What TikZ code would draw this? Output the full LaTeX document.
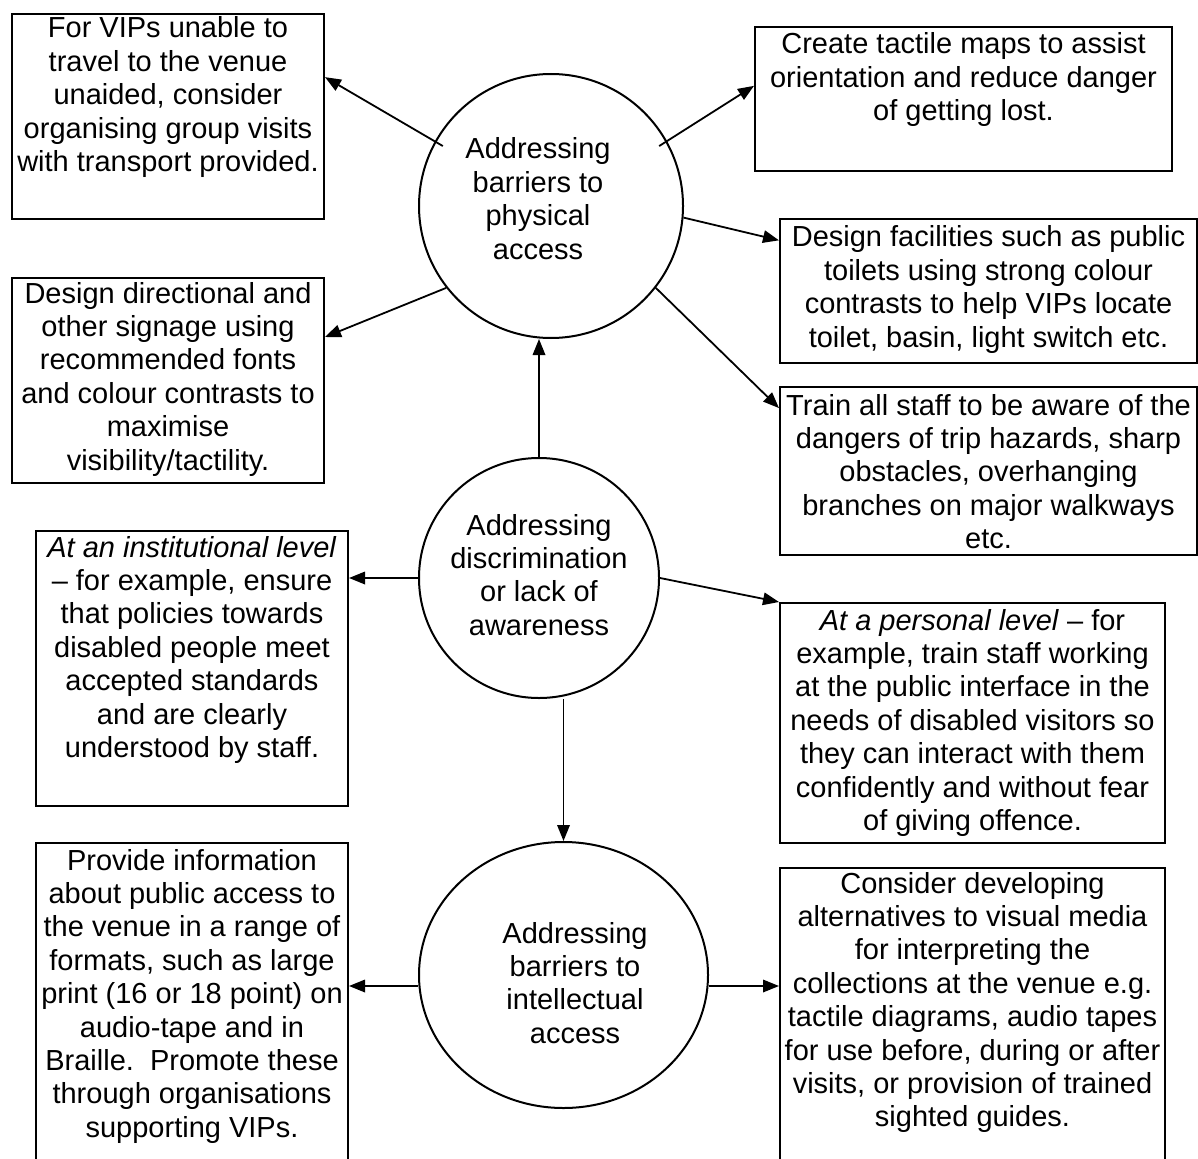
\documentclass[tikz,border=0pt]{standalone}
\usepackage{fontspec}
\setmainfont{Liberation Sans}
\usetikzlibrary{arrows.meta,calc,shapes.geometric}
\newcommand{\mylines}[1]{\begin{tabular}[t]{@{}c@{}}#1\end{tabular}}
\tikzset{
  bx/.style={draw, line width=2pt, inner sep=0pt, anchor=north west, rectangle},
  txt/.style={inner sep=0pt, anchor=base, font=\fontsize{29}{33.4}\selectfont},
  ring/.style={draw, line width=2pt, inner sep=0pt},
  arr/.style={line width=1.8pt, -{Triangle[length=16pt,width=12.5pt]}}
}
\begin{document}
\begin{tikzpicture}[x=1pt,y=-1pt]
\useasboundingbox (0,0) rectangle (1198,1158);
\clip (0,0) rectangle (1198,1158);
% boxes
\node[bx, minimum width=312pt, minimum height=205pt] (A) at (11,13) {};
\node[bx, minimum width=417pt, minimum height=144pt] (B) at (754,26) {};
\node[bx, minimum width=417pt, minimum height=144pt] (C) at (779,218) {};
\node[bx, minimum width=312pt, minimum height=205pt] (D) at (11,277) {};
\node[bx, minimum width=417pt, minimum height=168pt] (E) at (779,386) {};
\node[bx, minimum width=385pt, minimum height=240pt] (F) at (779,602) {};
\node[bx, minimum width=312pt, minimum height=275pt] (G) at (35,530) {};
\node[bx, minimum width=312pt, minimum height=340pt] (H) at (35,842) {};
\node[bx, minimum width=385pt, minimum height=320pt] (I) at (779,867) {};
% box texts
\node[txt] (At) at ([yshift=-25pt]A.north) {\mylines{For VIPs unable to\\travel to the venue\\unaided, consider\\organising group visits\\with transport provided.}};
\node[txt] (Bt) at ([yshift=-28pt]B.north) {\mylines{Create tactile maps to assist\\orientation and reduce danger\\of getting lost.}};
\node[txt] (Ct) at ([yshift=-29pt]C.north) {\mylines{Design facilities such as public\\toilets using strong colour\\contrasts to help VIPs locate\\toilet, basin, light switch etc.}};
\node[txt] (Dt) at ([yshift=-26pt]D.north) {\mylines{Design directional and\\other signage using\\recommended fonts\\and colour contrasts to\\maximise\\visibility/tactility.}};
\node[txt] (Et) at ([yshift=-29pt]E.north) {\mylines{Train all staff to be aware of the\\dangers of trip hazards, sharp\\obstacles, overhanging\\branches on major walkways\\etc.}};
\node[txt] (Ft) at ([yshift=-28pt]F.north) {\mylines{\textit{At a personal level} -- for\\example, train staff working\\at the public interface in the\\needs of disabled visitors so\\they can interact with them\\confidently and without fear\\of giving offence.}};
\node[txt] (Gt) at ([yshift=-27pt]G.north) {\mylines{\textit{At an institutional level}\\-- for example, ensure\\that policies towards\\disabled people meet\\accepted standards\\and are clearly\\understood by staff.}};
\node[txt] (Ht) at ([yshift=-28pt]H.north) {\mylines{Provide information\\about public access to\\the venue in a range of\\formats, such as large\\print (16 or 18 point) on\\audio-tape and in\\Braille.\ \ Promote these\\through organisations\\supporting VIPs.}};
\node[txt] (It) at ([yshift=-26pt]I.north) {\mylines{Consider developing\\alternatives to visual media\\for interpreting the\\collections at the venue e.g.\\tactile diagrams, audio tapes\\for use before, during or after\\visits, or provision of trained\\sighted guides.}};
% circles
\node[ring, circle, minimum size=264pt] (c1) at (551,206) {};
\node[ring, circle, minimum size=240pt] (c2) at (539,578) {};
\node[ring, ellipse, minimum width=289pt, minimum height=266pt] (c3) at (563.5,975) {};
\node[txt] (c1t) at ([xshift=-13pt,yshift=47pt]c1.center) {\mylines{Addressing\\barriers to\\physical\\access}};
\node[txt] (c2t) at ([yshift=43pt]c2.center) {\mylines{Addressing\\discrimination\\or lack of\\awareness}};
\node[txt] (c3t) at ([xshift=11.5pt,yshift=32pt]c3.center) {\mylines{Addressing\\barriers to\\intellectual\\access}};
% connectors
\draw[arr] ($(c1.center)!0.93!(c1.151)$) -- ($(A.north east)!0.31!(A.south east)$);
\draw[arr] ($(c1.center)!0.93!(c1.29)$) -- ($(B.north west)!0.41!(B.south west)$);
\draw[arr] (c1.-5) -- ($(C.north west)!0.153!(C.south west)$);
\draw[arr] (c1.-38) -- ($(E.north west)!0.13!(E.south west)$);
\draw[arr] (c1.218) -- ($(D.north east)!0.29!(D.south east)$);
\draw[arr] (c2.north) -- (c2.north |- c1.south);
\draw[arr] (c2.west) -- (c2.west -| G.east);
\draw[arr] (c2.east) -- (F.north west);
\draw[arr] (c3.north |- c2.south) -- (c3.north);
\coordinate (c3w) at ([yshift=-11pt]c3.west);
\coordinate (c3e) at ([yshift=-11pt]c3.east);
\draw[arr] (c3w) -- (c3w -| H.east);
\draw[arr] (c3e) -- (c3e -| I.west);
\end{tikzpicture}
\end{document}
